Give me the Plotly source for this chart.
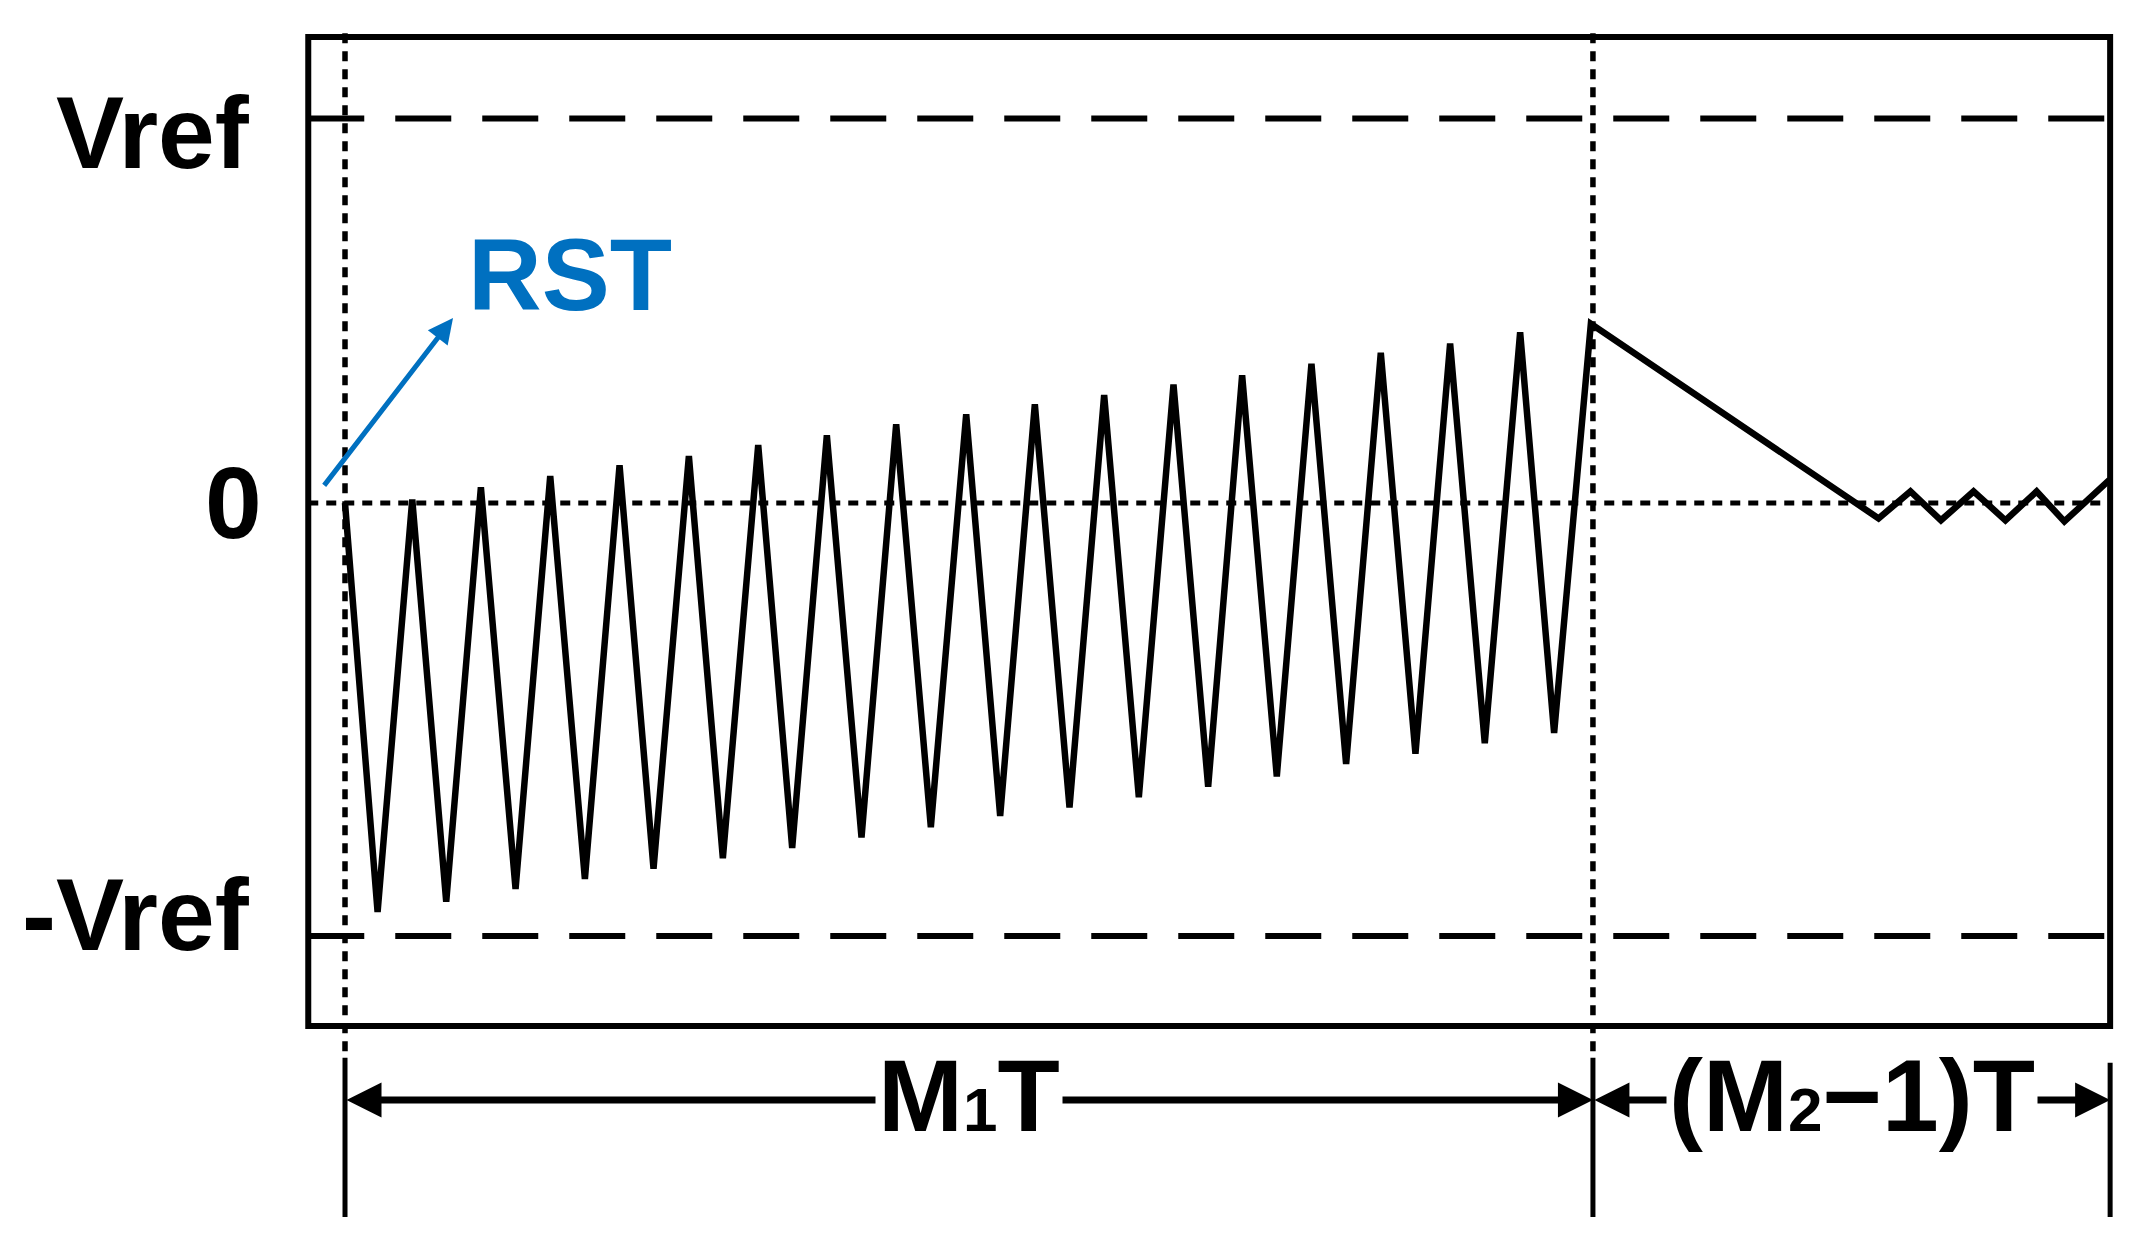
import plotly.graph_objects as go

# time axis in units of the clock period T, voltage axis in units of Vref
M1 = 18          # cycles in the first phase
T_END = 25.46    # right edge of the diagram (end of the (M2-1)T phase)

# integrator output
trough_t = [0.47, 1.46, 2.46, 3.46, 4.45, 5.45, 6.45, 7.45, 8.45,
            9.45, 10.45, 11.45, 12.45, 13.44, 14.44, 15.44, 16.44, 17.44]
trough_v = [-1.064, -1.037, -1.004, -0.978, -0.951, -0.924, -0.897, -0.870, -0.843,
            -0.814, -0.792, -0.765, -0.738, -0.711, -0.679, -0.652, -0.625, -0.598]
peak_t = [0.97, 1.96, 2.96, 3.96, 4.96, 5.96, 6.95, 7.95, 8.96,
          9.95, 10.95, 11.95, 12.94, 13.94, 14.94, 15.94, 16.95, 17.97]
peak_v = [0.009, 0.041, 0.070, 0.098, 0.122, 0.151, 0.176, 0.205, 0.231,
          0.257, 0.281, 0.308, 0.332, 0.362, 0.391, 0.415, 0.444, 0.466]
settle_t = [22.12, 22.58, 23.02, 23.49, 23.95, 24.40, 24.80, 25.45]
settle_v = [-0.040, 0.030, -0.045, 0.030, -0.045, 0.030, -0.048, 0.060]

# reference levels and their labels
level_v = [1.0, 0.0, -1.126]
level_labels = ["Vref", "0", "-Vref"]
phase_labels = ["M<span style='font-size:62px'>1</span>T",
                "(M<span style='font-size:62px'>2</span>\u22121)T"]

wave_t, wave_v = [0.0], [0.0]
for a, b, c, d in zip(trough_t, trough_v, peak_t, peak_v):
    wave_t += [a, c]
    wave_v += [b, d]
wave_t += settle_t
wave_v += settle_v

BLUE = "#0070C0"
FONT = "Arial, Liberation Sans, sans-serif"

# frame geometry (data units)
BOX_L, BOX_R, BOX_TOP, BOX_BOT = -0.53, T_END, 1.212, -1.360
ARROW_Y = -1.553

fig = go.Figure()
fig.add_trace(go.Scatter(x=wave_t, y=wave_v, mode="lines",
                         line=dict(color="black", width=6.5),
                         hoverinfo="skip", showlegend=False))

shapes = [dict(type="rect", x0=BOX_L, x1=BOX_R, y0=BOX_BOT, y1=BOX_TOP,
               line=dict(color="black", width=6))]
# Vref / -Vref dashed, zero dotted
for v in (level_v[0], level_v[2]):
    shapes.append(dict(type="line", x0=BOX_L, x1=BOX_R, y0=v, y1=v, layer="below",
                       line=dict(color="black", width=6, dash="56px,31px")))
shapes.append(dict(type="line", x0=BOX_L, x1=BOX_R, y0=0, y1=0, layer="below",
                   line=dict(color="black", width=5, dash="10px,8px")))
# phase boundaries
for t in (0, M1):
    shapes.append(dict(type="line", x0=t, x1=t, y0=1.222, y1=-1.428, layer="below",
                       line=dict(color="black", width=5.5, dash="10px,8px")))
for t, top in ((0, -1.443), (M1, -1.443), (T_END, -1.456)):
    shapes.append(dict(type="line", x0=t, x1=t, y0=top, y1=-1.857,
                       line=dict(color="black", width=5)))
fig.update_layout(shapes=shapes)

ann = []
# dimension arrows
for t0, t1 in ((0, M1), (M1, T_END)):
    ann.append(dict(x=t1, y=ARROW_Y, ax=t0, ay=ARROW_Y, xref="x", yref="y",
                    axref="x", ayref="y", text="", showarrow=True,
                    arrowside="end+start", arrowhead=2, startarrowhead=2,
                    arrowsize=1.0, startarrowsize=1.0, arrowwidth=7,
                    standoff=0, startstandoff=0, arrowcolor="black"))
for t, label in ((M1 / 2, phase_labels[0]), ((M1 + T_END) / 2, phase_labels[1])):
    ann.append(dict(x=t, y=-1.542, text=label, showarrow=False, bgcolor="white",
                    borderpad=2, xanchor="center", yanchor="middle",
                    font=dict(family=FONT, size=102, color="black", weight="bold")))
# level labels
for lt, lv, label in zip([-1.34, -1.17, -1.34], [0.962, 0.0, -1.072], level_labels):
    ann.append(dict(x=lt, y=lv, text=label, showarrow=False,
                    xanchor="right", yanchor="middle",
                    font=dict(family=FONT, size=102, color="black", weight="bold")))
# reset marker
ann.append(dict(x=1.558, y=0.481, ax=-0.317, ay=0.042, xref="x", yref="y",
                axref="x", ayref="y", text="", showarrow=True, arrowhead=2,
                arrowsize=1.0, arrowwidth=5, arrowcolor=BLUE, standoff=0))
ann.append(dict(x=3.245, y=0.593, text="RST", showarrow=False,
                xanchor="center", yanchor="middle",
                font=dict(family=FONT, size=102, color=BLUE, weight="bold")))
fig.update_layout(annotations=ann)

# the page body has an 8px margin, so the figure is 16px smaller than the
# window and the ranges are shifted to keep the drawing where it belongs
fig.update_layout(
    width=2123, height=1225,
    margin=dict(l=0, r=0, t=0, b=0),
    paper_bgcolor="white", plot_bgcolor="white",
    xaxis=dict(range=[-4.861, 25.761], visible=False, fixedrange=True),
    yaxis=dict(range=[-1.8986, 1.2874], visible=False, fixedrange=True),
)
fig.write_html("out.html")
